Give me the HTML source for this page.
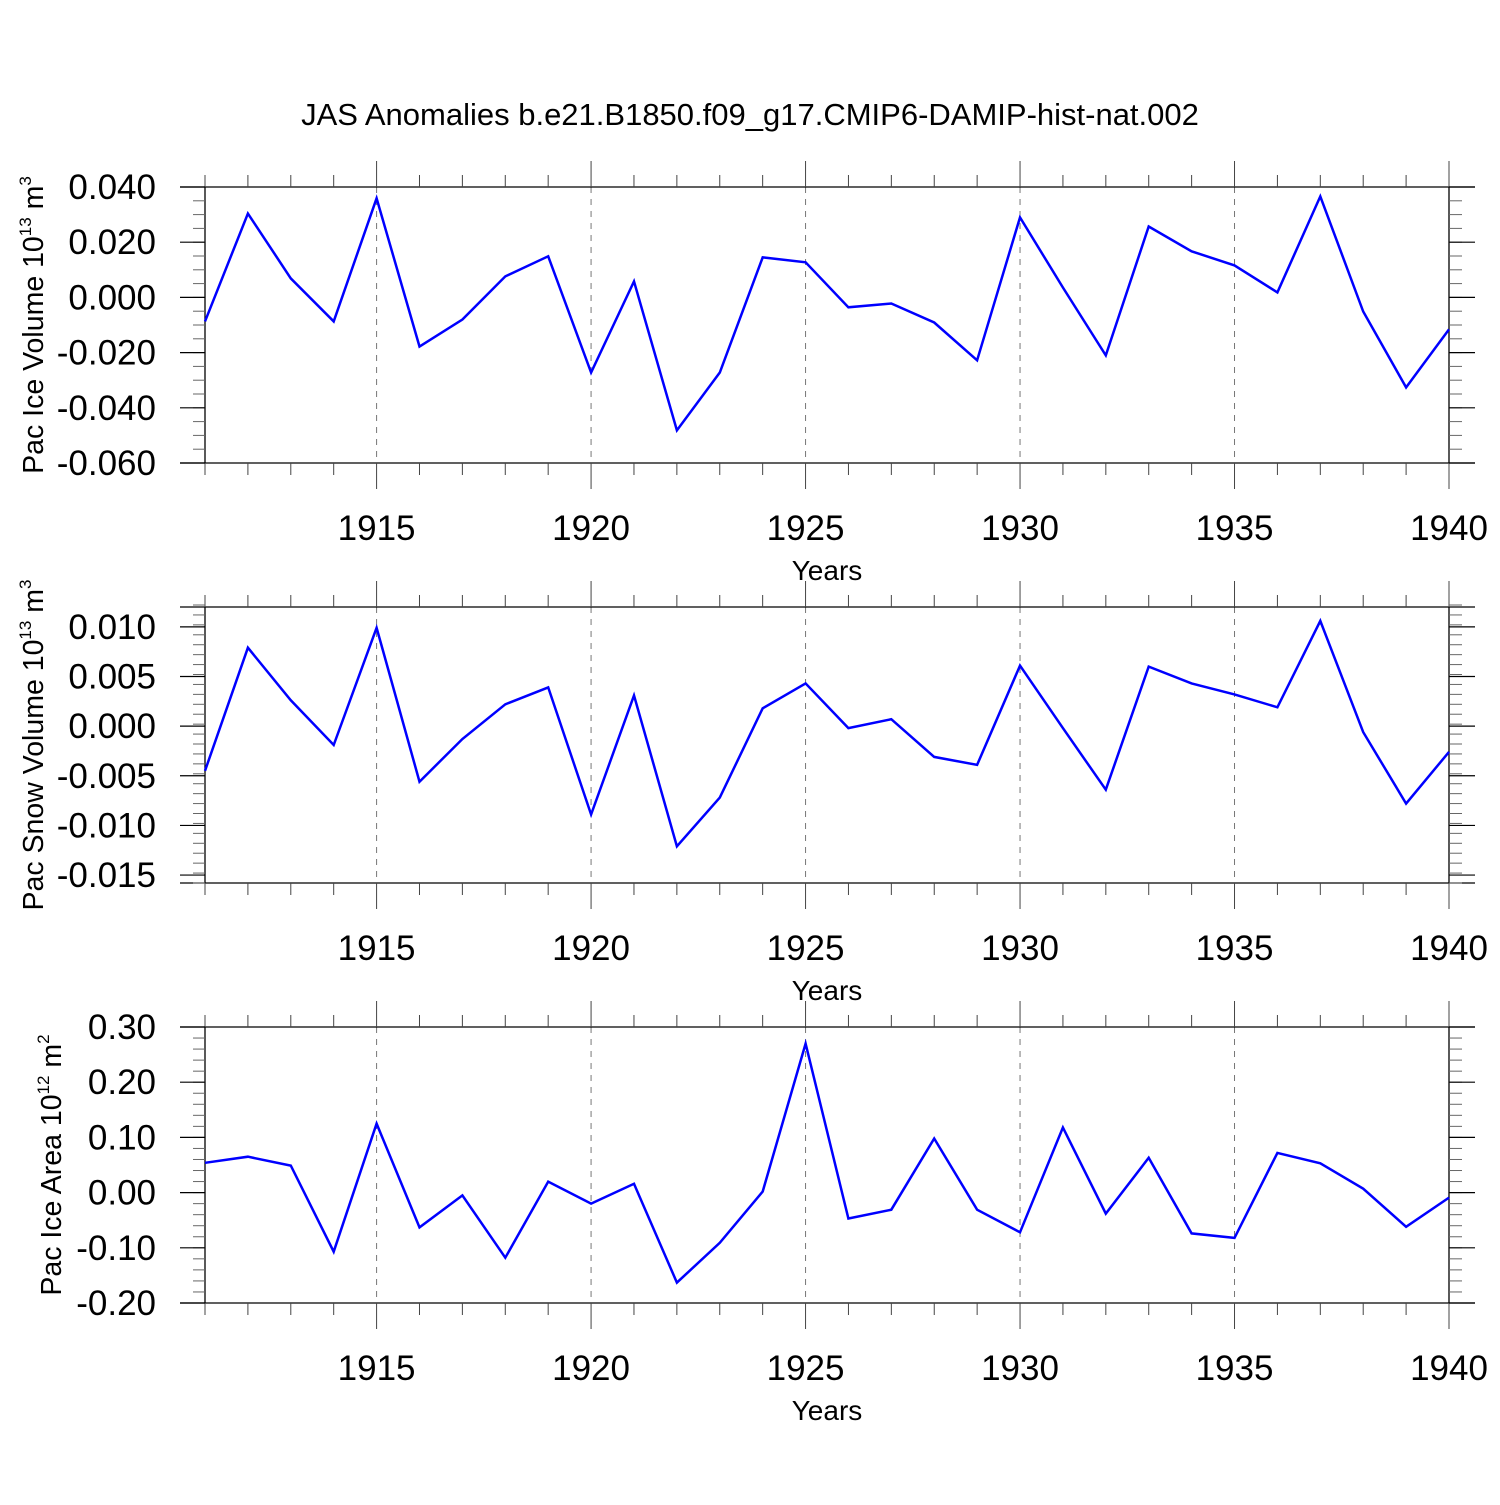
<!DOCTYPE html>
<html><head><meta charset="utf-8"><style>
body{margin:0;background:#fff}
svg text{font-family:"Liberation Sans",sans-serif;fill:#000}
</style></head><body>
<svg id="chart" width="1500" height="1500" viewBox="0 0 1500 1500" xmlns="http://www.w3.org/2000/svg">
<text x="750" y="125" font-size="31" text-anchor="middle">JAS Anomalies b.e21.B1850.f09_g17.CMIP6-DAMIP-hist-nat.002</text>
</svg>
<script>
const years = [1911,1912,1913,1914,1915,1916,1917,1918,1919,1920,1921,1922,1923,1924,1925,1926,1927,1928,1929,1930,1931,1932,1933,1934,1935,1936,1937,1938,1939,1940];
const iceVolume = [-0.0087,0.0304,0.0069,-0.0087,0.0359,-0.0178,-0.008,0.0076,0.0149,-0.0272,0.0058,-0.0482,-0.0272,0.0145,0.0127,-0.0036,-0.0022,-0.0091,-0.0228,0.029,0.0036,-0.021,0.0257,0.0167,0.0116,0.0018,0.0366,-0.0051,-0.0326,-0.0116];
const snowVolume = [-0.0045,0.0079,0.0026,-0.0019,0.0099,-0.0056,-0.0013,0.0022,0.0039,-0.0089,0.0031,-0.0121,-0.0072,0.0018,0.0043,-0.0002,0.0007,-0.0031,-0.0039,0.0061,-0.0002,-0.0064,0.006,0.0043,0.0032,0.0019,0.0106,-0.0006,-0.0078,-0.0026];
const iceArea = [0.054,0.065,0.049,-0.107,0.125,-0.063,-0.005,-0.118,0.02,-0.02,0.016,-0.163,-0.091,0.002,0.27,-0.047,-0.031,0.098,-0.031,-0.072,0.118,-0.038,0.063,-0.074,-0.082,0.072,0.053,0.007,-0.062,-0.009];
const xTickYears = [1915,1920,1925,1930,1935,1940];
const iceVolTicks = [0.04,0.02,0,-0.02,-0.04,-0.06];
const iceVolTickLabels = ["0.040","0.020","0.000","-0.020","-0.040","-0.060"];
const snowTicks = [0.01,0.005,0,-0.005,-0.01,-0.015];
const snowTickLabels = ["0.010","0.005","0.000","-0.005","-0.010","-0.015"];
const areaTicks = [0.3,0.2,0.1,0,-0.1,-0.2];
const areaTickLabels = ["0.30","0.20","0.10","0.00","-0.10","-0.20"];

const NS="http://www.w3.org/2000/svg";
const svg=document.getElementById('chart');
function mk(tag,attrs,parent){const e=document.createElementNS(NS,tag);for(const k in attrs)e.setAttribute(k,attrs[k]);(parent||svg).appendChild(e);return e;}
const X0=205,X1=1449,Y0=1911,Y1=1940;
const xs=y=>X0+(y-Y0)*(X1-X0)/(Y1-Y0);

function panel(name,top,vmax,vmin,minorStep,ticks,labels,data,labelMain,sup,unit,labelX){
  const bot=top+276;
  const ys=v=>top+(vmax-v)*(bot-top)/(vmax-vmin);
  const g=mk('g',{});
  
  
  xTickYears.forEach(yr=>{if(yr<Y1){const l=mk('line',{x1:xs(yr),x2:xs(yr),y1:top,y2:bot,stroke:'#777','stroke-width':1,'stroke-dasharray':'6,6'},g);
    
    }});
  mk('line',{x1:180,x2:1475,y1:top,y2:top,stroke:'#000','stroke-width':1.3},g);
  mk('line',{x1:180,x2:1475,y1:bot,y2:bot,stroke:'#000','stroke-width':1.3},g);
  mk('line',{x1:X0,x2:X0,y1:top,y2:bot,stroke:'#000','stroke-width':1.3},g);
  mk('line',{x1:X1,x2:X1,y1:top,y2:bot,stroke:'#000','stroke-width':1.3},g);
  years.forEach(yr=>{const maj=xTickYears.includes(yr);const L=maj?26:12;const x=xs(yr);
    mk('line',{x1:x,x2:x,y1:top-L,y2:top,stroke:'#444','stroke-width':1},g);
    mk('line',{x1:x,x2:x,y1:bot,y2:bot+L,stroke:'#444','stroke-width':1},g);});
  xTickYears.forEach(yr=>{const t=mk('text',{x:xs(yr),y:bot+77,'font-size':35,'text-anchor':'middle'},g);t.textContent=yr;
    
    });
  const xt=mk('text',{x:827,y:bot+117,'font-size':28,'text-anchor':'middle'},g);xt.textContent='Years';
  
  
  const n=Math.round((vmax-vmin)/minorStep);
  for(let i=0;i<=n;i++){const v=vmin+i*minorStep;const y=ys(v);
    mk('line',{x1:193,x2:X0,y1:y,y2:y,stroke:'#666','stroke-width':1},g);
    mk('line',{x1:X1,x2:1462,y1:y,y2:y,stroke:'#666','stroke-width':1},g);}
  ticks.forEach((v,i)=>{const y=ys(v);
    mk('line',{x1:180,x2:X0,y1:y,y2:y,stroke:'#000','stroke-width':1.2},g);
    mk('line',{x1:X1,x2:1475,y1:y,y2:y,stroke:'#000','stroke-width':1.2},g);
    const t=mk('text',{x:156,y:y+12,'font-size':35,'text-anchor':'end'},g);t.textContent=labels[i];
    
    });
  const yt=mk('text',{transform:`translate(${labelX},${(top+bot)/2}) rotate(-90)`,'font-size':28.5,'text-anchor':'middle'},g);
  
  
  yt.innerHTML=`${labelMain}<tspan dy="-12" font-size="17">${sup}</tspan><tspan dy="12"> ${unit}</tspan><tspan dy="-12" font-size="17">${name==='ice-area'?'2':'3'}</tspan>`;
  const pts=data.map((v,i)=>xs(years[i]).toFixed(1)+','+ys(v).toFixed(1)).join(' ');
  const pl=mk('polyline',{points:pts,fill:'none',stroke:'#0000ff','stroke-width':2.5,'stroke-linejoin':'miter'},g);
  
  
}
panel('ice-volume',187,0.04,-0.06,0.005,iceVolTicks,iceVolTickLabels,iceVolume,'Pac Ice Volume 10','13','m',43);
panel('snow-volume',607,0.012,-0.0158,0.001,snowTicks,snowTickLabels,snowVolume,'Pac Snow Volume 10','13','m',43);
panel('ice-area',1027,0.3,-0.2,0.02,areaTicks,areaTickLabels,iceArea,'Pac Ice Area 10','12','m',61);
</script>
</body></html>
